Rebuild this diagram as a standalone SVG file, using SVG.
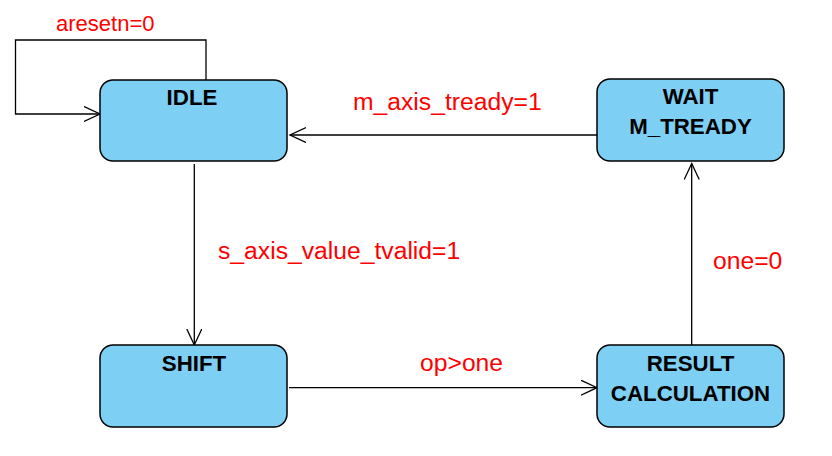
<svg xmlns="http://www.w3.org/2000/svg" width="832" height="456" viewBox="0 0 832 456">
<style>
.node{fill:#7dcff4;stroke:#000;stroke-width:1.5}
.nt{font-family:"Liberation Sans",Arial,sans-serif;font-weight:bold;font-size:22.3px;fill:#000;text-anchor:middle}
.lb{font-family:"Liberation Sans",Arial,sans-serif;font-size:24.7px;fill:#ff0000}
.edge{fill:none;stroke:#000;stroke-width:1.3}
</style>
<defs>
<marker id="arr" markerWidth="20" markerHeight="20" refX="16" refY="8" orient="auto" markerUnits="userSpaceOnUse">
<path d="M0,0.5 L16,8 L0,15.5" fill="none" stroke="#000" stroke-width="1.3"/>
</marker>
</defs>
<rect width="832" height="456" fill="#fff"/>
<g id="connectors">
<path class="edge" d="M206,80 V40 H15.5 V114 H100" marker-end="url(#arr)"/>
<path class="edge" d="M194.3,164 V345" marker-end="url(#arr)"/>
<path class="edge" d="M289,387.7 H597" marker-end="url(#arr)"/>
<path class="edge" d="M691.7,345 V163.5" marker-end="url(#arr)"/>
<path class="edge" d="M597,135 H290" marker-end="url(#arr)"/>
<text class="lb" x="56" y="30.5" style="font-size:22px">aresetn=0</text>
<text class="lb" x="353" y="110">m_axis_tready=1</text>
<text class="lb" x="218" y="259">s_axis_value_tvalid=1</text>
<text class="lb" x="420" y="371">op&gt;one</text>
<text class="lb" x="713" y="269">one=0</text>
</g>
<g id="idle">
<rect class="node" x="100" y="80" width="187" height="81" rx="13"/>
<text class="nt" x="192" y="104.5">IDLE</text>
</g>
<g id="wait">
<rect class="node" x="597" y="79" width="187" height="82" rx="13"/>
<text class="nt" x="690.5" y="104.3">WAIT</text>
<text class="nt" x="690.5" y="134.3">M_TREADY</text>
</g>
<g id="shift">
<rect class="node" x="100" y="345" width="187" height="82" rx="13"/>
<text class="nt" x="194" y="371">SHIFT</text>
</g>
<g id="result">
<rect class="node" x="597" y="345" width="187" height="82" rx="13"/>
<text class="nt" x="690.5" y="371">RESULT</text>
<text class="nt" x="690.5" y="400.7">CALCULATION</text>
</g>
</svg>
